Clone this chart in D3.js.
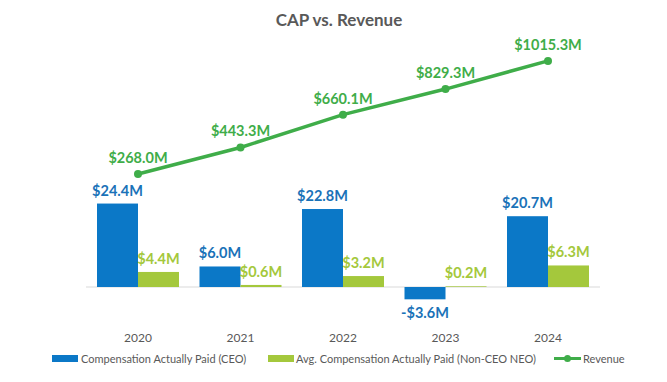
<!DOCTYPE html>
<html>
<head>
<meta charset="utf-8">
<script src="https://cdn.jsdelivr.net/npm/d3@7"></script>
<style>
  body { margin: 0; background: #fff; }
  svg text { font-family: Lato, "Open Sans", sans-serif; }
</style>
</head>
<body>
<svg id="chart" width="667" height="382"></svg>
<script>
const years = ["2020", "2021", "2022", "2023", "2024"];
const ceoCap = [24.4, 6.0, 22.8, -3.6, 20.7];
const neoCap = [4.4, 0.6, 3.2, 0.2, 6.3];
const revenue = [268.0, 443.3, 660.1, 829.3, 1015.3];

const blue = "#0b78c7", green = "#a4c83c", lineGreen = "#3fad49", grey = "#595959";
const fmt = v => (v < 0 ? "-$" : "$") + Math.abs(v).toFixed(1) + "M";

const svg = d3.select("#chart");

const x = d3.scaleBand().domain(years).range([86.75, 599.25]).paddingInner(0.2).paddingOuter(0.1);
const sub = d3.scaleBand().domain(["ceo", "neo"]).range([0, x.bandwidth()]);
const y = d3.scaleLinear().domain([-5, 30]).range([304.1, 184.4]);   // bars
const y2 = d3.scaleLinear().domain([0, 1200]).range([214.5, 33]);   // revenue

// title
svg.append("text")
    .attr("x", 339).attr("y", 26)
    .attr("text-anchor", "middle")
    .attr("font-size", 17).attr("font-weight", "bold")
    .attr("fill", grey)
    .text("CAP vs. Revenue");

// zero line
svg.append("line")
    .attr("x1", 86).attr("x2", 600)
    .attr("y1", y(0)).attr("y2", y(0))
    .attr("stroke", "#d9d9d9").attr("stroke-width", 1);

// bars
const g = svg.append("g");
years.forEach((yr, i) => {
    [["ceo", ceoCap[i], blue], ["neo", neoCap[i], green]].forEach(([k, v, c]) => {
        const bx = x(yr) + sub(k);
        g.append("rect")
            .attr("x", bx).attr("width", sub.bandwidth())
            .attr("y", Math.min(y(v), y(0)))
            .attr("height", Math.abs(y(v) - y(0)))
            .attr("fill", c);
        g.append("text")
            .attr("x", bx + sub.bandwidth() / 2)
            .attr("y", v < 0 ? y(v) + 19 : y(v) - 8)
            .attr("text-anchor", "middle")
            .attr("font-size", 14.5).attr("font-weight", "bold")
            .attr("fill", k === "ceo" ? "#1a72b8" : "#a4c83c")
            .text(fmt(v));
    });
});

// year labels
svg.append("g").selectAll("text").data(years).join("text")
    .attr("x", d => x(d) + x.bandwidth() / 2)
    .attr("y", 342)
    .attr("text-anchor", "middle")
    .attr("font-size", 12).attr("fill", grey)
    .text(d => d);

// revenue line
const cx = i => x(years[i]) + x.bandwidth() / 2;
const line = d3.line().x((d, i) => cx(i)).y(d => y2(d));
svg.append("path")
    .datum(revenue)
    .attr("d", line)
    .attr("fill", "none").attr("stroke", lineGreen).attr("stroke-width", 3.5);
svg.append("g").selectAll("circle").data(revenue).join("circle")
    .attr("cx", (d, i) => cx(i)).attr("cy", d => y2(d))
    .attr("r", 4).attr("fill", lineGreen);
svg.append("g").selectAll("text").data(revenue).join("text")
    .attr("x", (d, i) => cx(i)).attr("y", d => y2(d) - 11)
    .attr("text-anchor", "middle")
    .attr("font-size", 14.5).attr("font-weight", "bold")
    .attr("fill", lineGreen)
    .text(d => fmt(d));

// legend
const lg = svg.append("g").attr("font-size", 11).attr("fill", grey);
lg.append("rect").attr("x", 52).attr("y", 355).attr("width", 26).attr("height", 7).attr("fill", blue);
lg.append("text").attr("x", 81).attr("y", 362.5).text("Compensation Actually Paid (CEO)");
lg.append("rect").attr("x", 268).attr("y", 355).attr("width", 26).attr("height", 7).attr("fill", green);
lg.append("text").attr("x", 296).attr("y", 362.5).text("Avg. Compensation Actually Paid (Non-CEO NEO)");
lg.append("line").attr("x1", 554).attr("x2", 581).attr("y1", 358.5).attr("y2", 358.5)
    .attr("stroke", lineGreen).attr("stroke-width", 3);
lg.append("circle").attr("cx", 567.5).attr("cy", 358.5).attr("r", 3.5).attr("fill", lineGreen);
lg.append("text").attr("x", 583).attr("y", 362.5).text("Revenue");
</script>
</body>
</html>
